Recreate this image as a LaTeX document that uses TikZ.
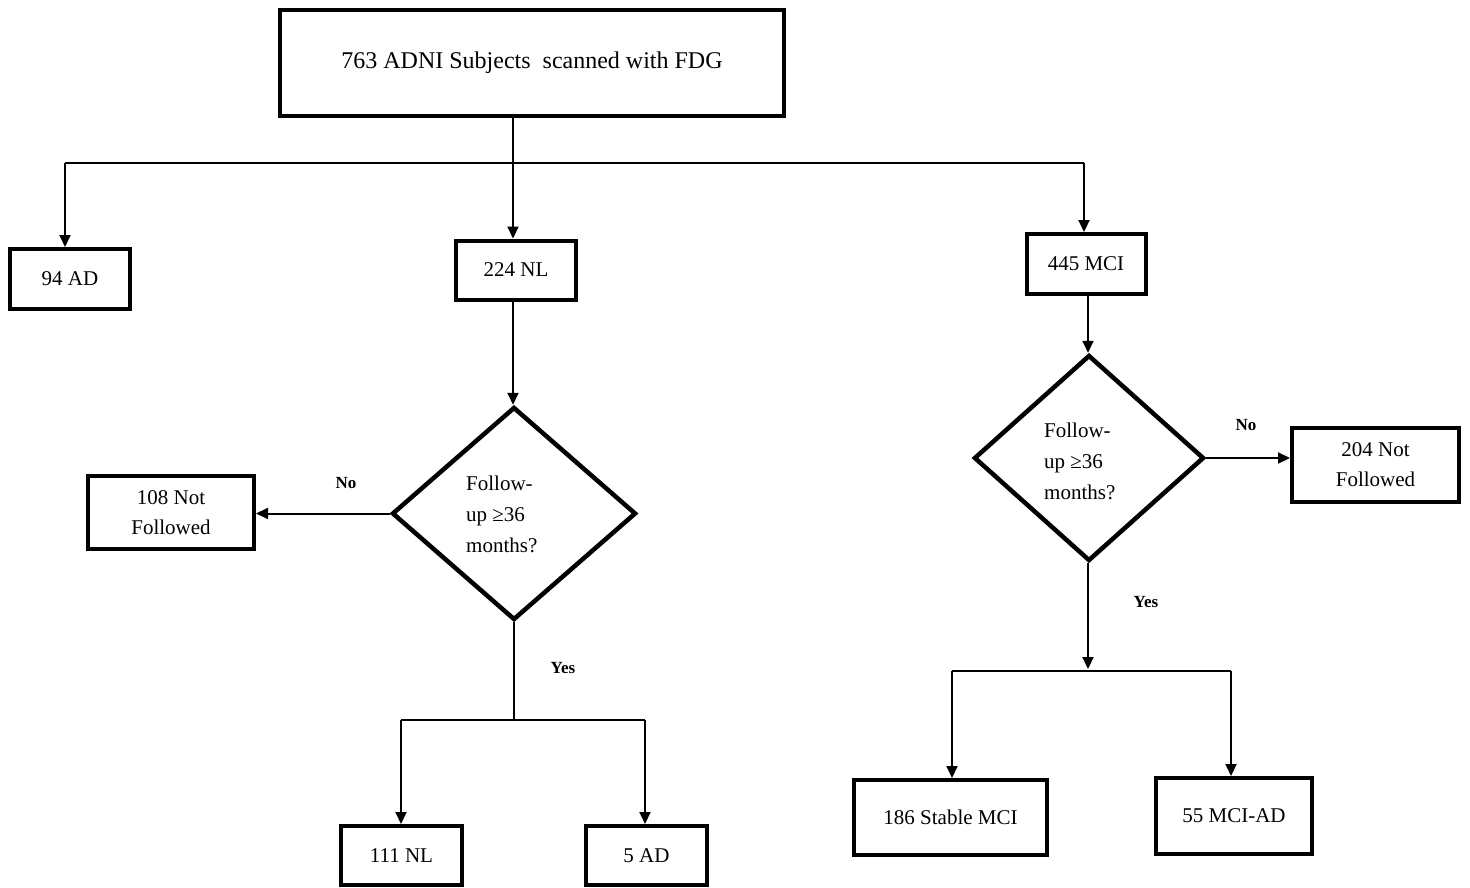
\documentclass[tikz,border=0pt]{standalone}
\usepackage{fontspec}
\setmainfont{Liberation Serif}
\usetikzlibrary{arrows.meta,shapes.geometric}
\begin{document}
\begin{tikzpicture}[x=1pt,y=-1pt,
  box/.style={draw,line width=4pt,inner sep=0pt,font=\fontsize{21}{30}\selectfont,align=center},
  dia/.style={draw,shape=diamond,line width=4.5pt,inner sep=0pt,aspect=1},
  dtext/.style={anchor=west,align=left,inner sep=0pt,font=\fontsize{21}{31}\selectfont},
  lab/.style={inner sep=0pt,font=\fontsize{17}{20}\selectfont\bfseries},
  conn/.style={line width=2pt},
  arr/.style={line width=2pt,-{Triangle[length=12pt,width=11pt]}}]
\useasboundingbox (0,0) rectangle (1470,888);
% boxes
\node[box,minimum width=504,minimum height=106,font=\fontsize{24}{28}\selectfont] (top) at (532,63) {763 ADNI Subjects\ \ scanned with FDG};
\node[box,minimum width=120,minimum height=60] (ad) at (70,279) {94 AD};
\node[box,minimum width=120,minimum height=59] (nl) at (516,270) {224 NL};
\node[box,minimum width=119,minimum height=60] (mci) at (1086,264) {445 MCI};
\node[box,minimum width=166,minimum height=73] (nfa) at (171,512.5) {108 Not\\Followed};
\node[box,minimum width=167,minimum height=74] (nfb) at (1375.5,465) {204 Not\\Followed};
\node[box,minimum width=121,minimum height=59] (nlb) at (401.5,855.5) {111 NL};
\node[box,minimum width=121,minimum height=59] (adb) at (646.5,855.5) {5 AD};
\node[box,minimum width=193,minimum height=75] (smci) at (950.5,817.5) {186 Stable MCI};
\node[box,minimum width=156,minimum height=76] (mciad) at (1234,816) {55 MCI-AD};
% diamonds
\node[dia,minimum width=244,minimum height=213] (da) at (514,513.5) {};
\node[dtext] (ta) at (466,514) {Follow-\\up ≥36\\months?};
\node[dia,minimum width=230,minimum height=206] (db) at (1089,458) {};
\node[dtext] (tb) at (1044,461) {Follow-\\up ≥36\\months?};
% labels
\node[lab] (noa) at (346,483) {No};
\node[lab] (nob) at (1246,425) {No};
\node[lab] (yesa) at (563,668) {Yes};
\node[lab] (yesb) at (1146,602) {Yes};
% junctions
\coordinate (j0) at (513,163);
\coordinate (jl) at (65,163);
\coordinate (jr) at (1084,163);
\coordinate (j2) at (514,720);
\coordinate (j2l) at (401,720);
\coordinate (j2r) at (645,720);
\coordinate (j3) at (1088,669);
\coordinate (j3l) at (952,671);
\coordinate (j3r) at (1231,671);
% connectors
\draw[conn] (top.south -| j0) -- (j0);
\draw[conn] (jl) -- (jr);
\draw[arr] (jl) -- (jl |- ad.north);
\draw[arr] (j0) -- (j0 |- nl.north);
\draw[arr] (jr) -- (jr |- mci.north);
\draw[arr] (nl.south -| j0) -- (j0 |- da.north);
\draw[arr] (da.west) -- (da.west -| nfa.east);
\draw[conn] (da.south) -- (j2);
\draw[conn] (j2l) -- (j2r);
\draw[arr] (j2l) -- (j2l |- nlb.north);
\draw[arr] (j2r) -- (j2r |- adb.north);
\draw[arr] (mci.south -| j3) -- (j3 |- db.north);
\draw[arr] (db.east) -- (db.east -| nfb.west);
\draw[arr] (db.south -| j3) -- (j3);
\draw[conn] (j3l) -- (j3r);
\draw[arr] (j3l) -- (j3l |- smci.north);
\draw[arr] (j3r) -- (j3r |- mciad.north);
\end{tikzpicture}
\end{document}
